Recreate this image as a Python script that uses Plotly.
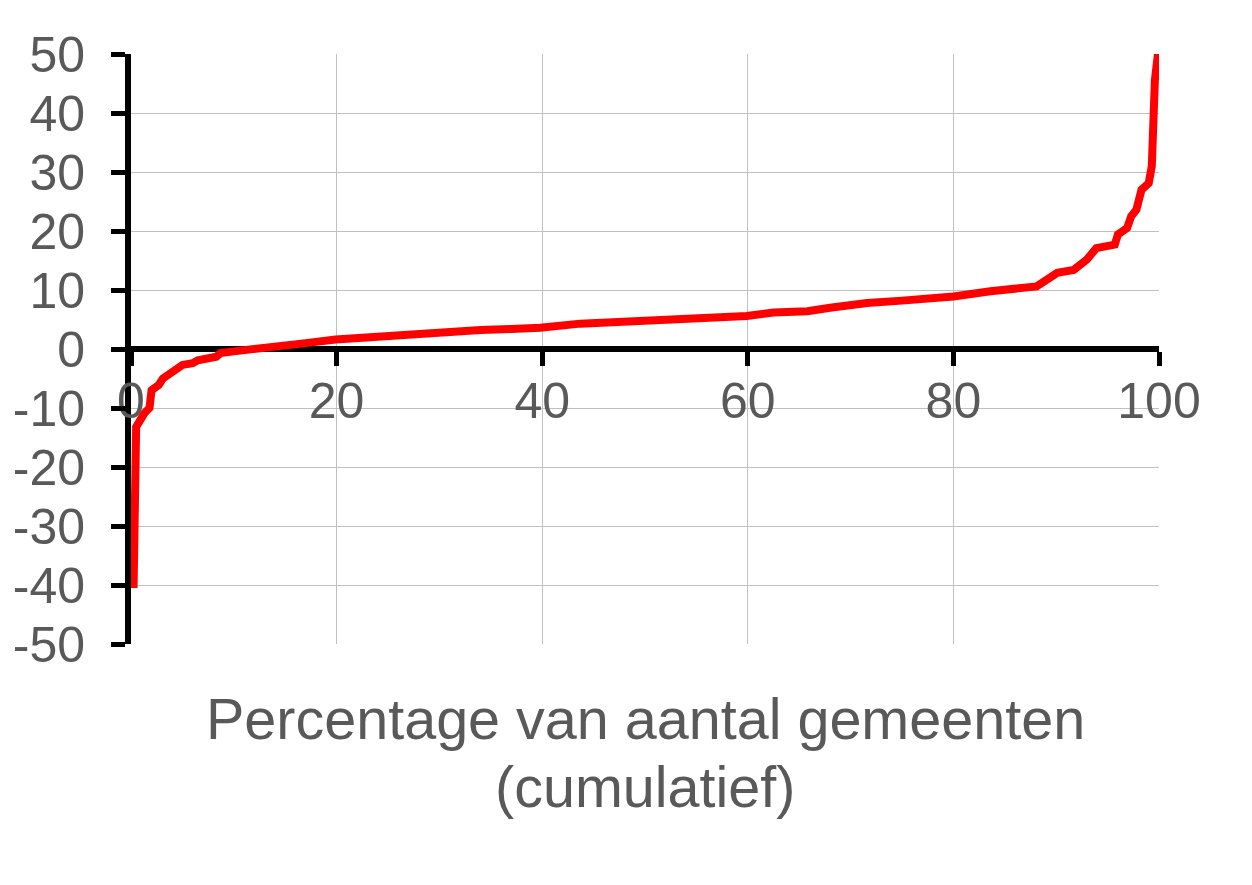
import plotly.graph_objects as go

# Cumulative percentage of municipalities (x) and value (y)
pct = [0.25, 0.5, 1.3, 1.8, 2.0, 2.7, 3.1, 3.9, 5.0, 6.0, 6.5, 8.3, 8.7, 10.0,
       11.7, 13.0, 14.6, 16.0, 17.0, 19.9, 23.0, 27.5, 30.0, 34.0, 37.0, 39.8,
       43.7, 47.0, 50.2, 55.4, 59.9, 62.5, 65.8, 68.0, 71.6, 75.0, 78.0, 80.0,
       83.6, 85.0, 87.8, 88.1, 90.1, 91.7, 93.0, 93.9, 95.7, 96.0, 96.9, 97.3,
       97.8, 98.3, 99.0, 99.3, 99.45, 99.6, 99.9]
val = [-40.5, -13.2, -10.9, -10.0, -7.0, -6.1, -5.0, -3.9, -2.7, -2.4, -1.9, -1.3,
       -0.7, -0.4, -0.1, 0.1, 0.3, 0.6, 1.0, 1.6, 2.0, 2.6, 2.8, 3.2, 3.4, 3.6,
       4.3, 4.5, 4.7, 5.0, 5.6, 6.2, 6.4, 7.0, 7.8, 8.2, 8.6, 8.9,
       9.8, 10.1, 10.6, 10.6, 12.9, 13.4, 15.2, 17.1, 17.7, 19.4, 20.5, 22.5,
       23.6, 27.0, 28.1, 31.0, 38.3, 45.6, 50.0]

x_ticks = [0, 20, 40, 60, 80, 100]
y_ticks = [-50, -40, -30, -20, -10, 0, 10, 20, 30, 40, 50]
x_title_lines = ["Percentage van aantal gemeenten", "(cumulatief)"]

FONT = "Liberation Sans, Arial, sans-serif"
GREY = "#595959"

fig = go.Figure()
fig.add_trace(go.Scatter(x=pct, y=val, mode="lines",
                         line=dict(color="#FF0000", width=8),
                         hoverinfo="skip", showlegend=False))

fig.update_layout(
    width=1252, height=885,
    margin=dict(l=123, r=101, t=46, b=249),
    paper_bgcolor="white", plot_bgcolor="white",
    font=dict(family=FONT, color=GREY, size=50),
    xaxis=dict(range=[0, 100], tickvals=x_ticks, ticktext=[str(v) for v in x_ticks],
               anchor="free", position=0.5, automargin=False,
               showline=True, linecolor="black", linewidth=6,
               ticks="outside", ticklen=14, tickwidth=5, tickcolor="black",
               ticklabelstandoff=-8,
               showgrid=True, gridcolor="#c0c0c0", gridwidth=1,
               zeroline=False, layer="below traces",
               tickfont=dict(size=50, color=GREY, family=FONT)),
    yaxis=dict(range=[-50, 50], tickvals=y_ticks, ticktext=[str(v) for v in y_ticks],
               automargin=False,
               showline=True, linecolor="black", linewidth=6,
               ticks="outside", ticklen=14, tickwidth=5, tickcolor="black",
               ticklabelstandoff=16,
               showgrid=True, gridcolor="#c0c0c0", gridwidth=1,
               zeroline=False, layer="below traces",
               tickfont=dict(size=50, color=GREY, family=FONT)),
    annotations=[dict(text=t, xref="paper", yref="paper",
                      x=0.5, y=yy, xanchor="center", yanchor="top",
                      showarrow=False, align="center",
                      font=dict(size=57.5, color=GREY, family=FONT))
                 for t, yy in zip(x_title_lines, [-0.0695, -0.1847])],
)

fig.write_html("out.html")
